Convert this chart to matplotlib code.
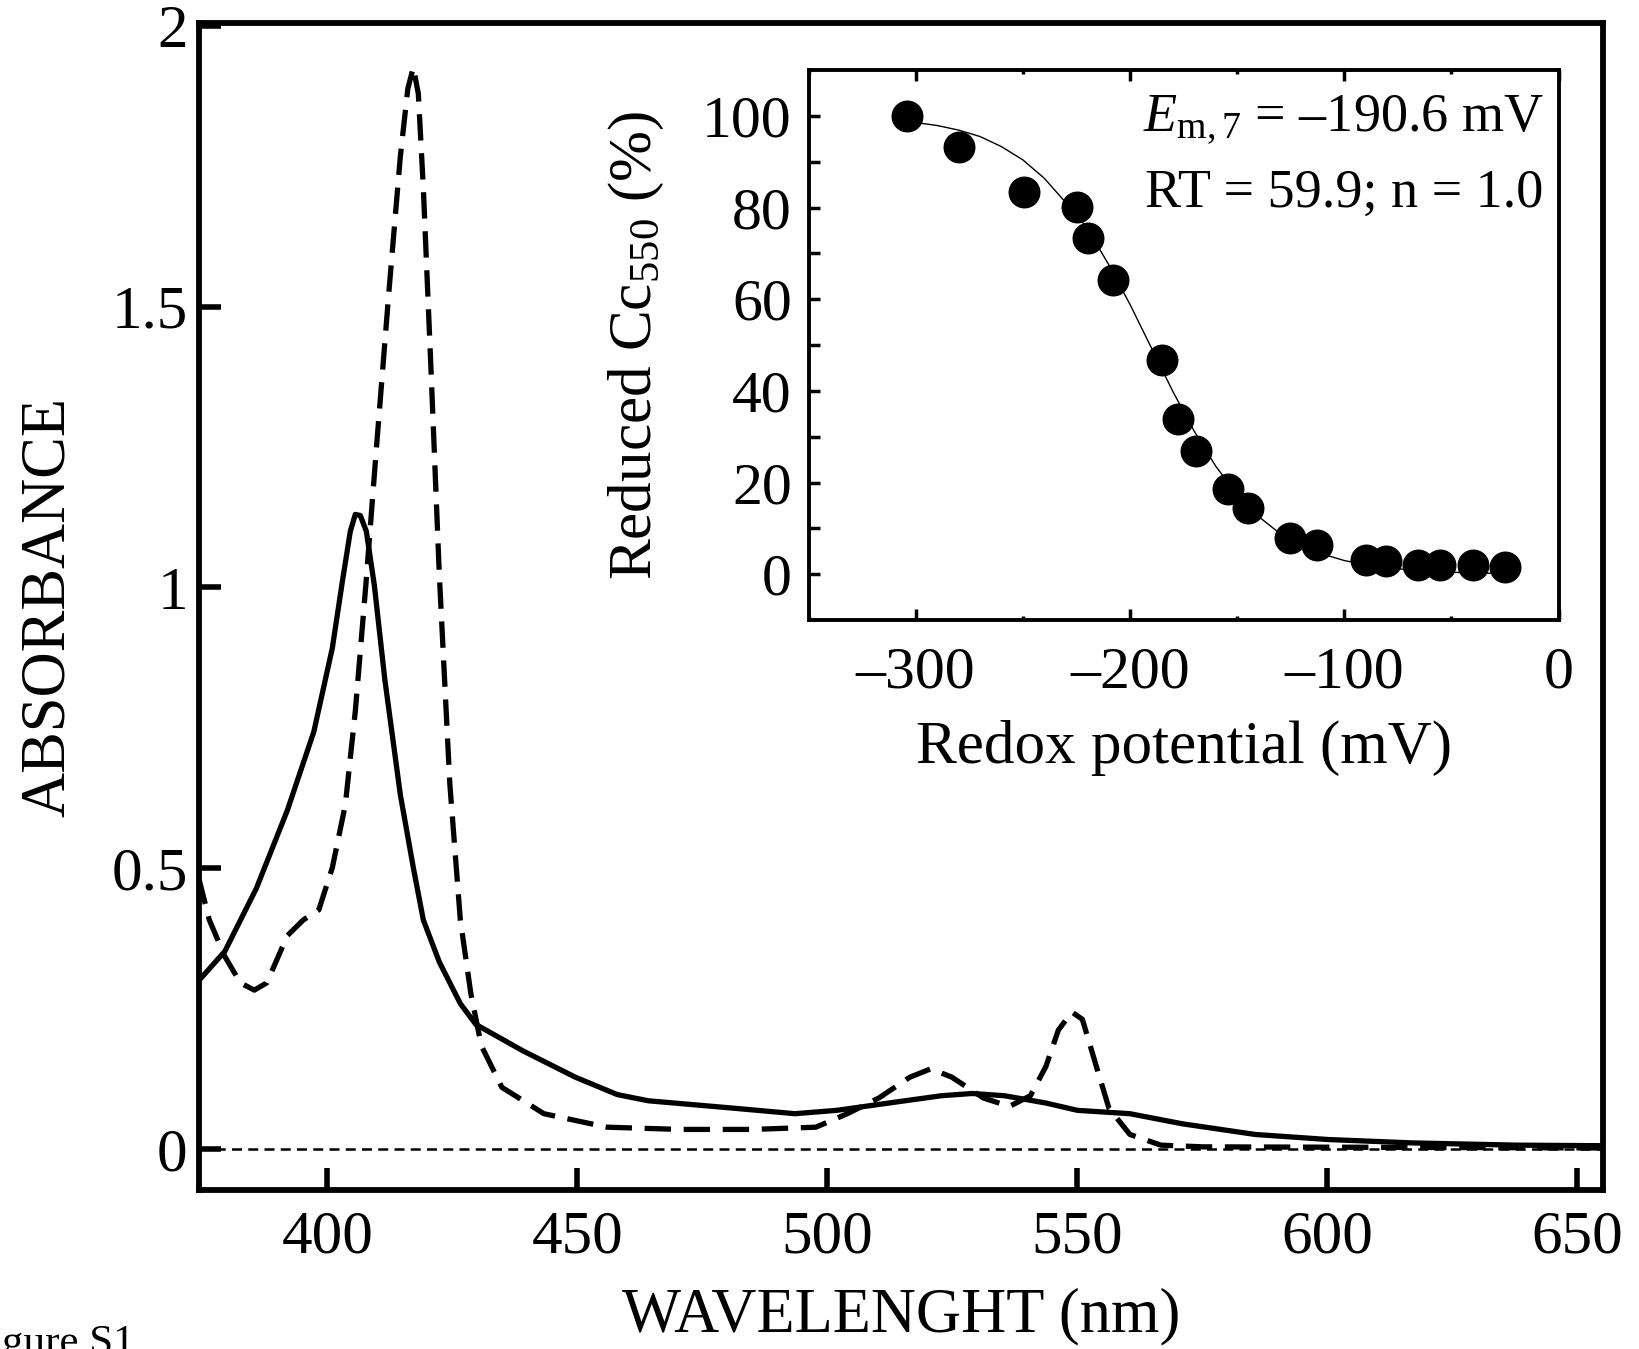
import matplotlib
matplotlib.use("Agg")
import matplotlib.pyplot as plt

plt.rcParams['font.family'] = ['Liberation Serif', 'DejaVu Serif']
plt.rcParams['mathtext.fontset'] = 'custom'
plt.rcParams['mathtext.rm'] = 'Liberation Serif'
plt.rcParams['mathtext.it'] = 'Liberation Serif:italic'

# solid spectrum (wavelength nm, absorbance)
solid_wl = [374.3, 379.5, 385.8, 392.0, 397.3, 401.0, 403.0, 404.6, 405.6, 406.6,
            407.8, 409.4, 411.5, 414.6, 417.2, 419.2, 422.4, 426.6, 429.7, 439.1,
            449.6, 458.0, 464.2, 481.0, 493.5, 501.9, 512.3, 522.8, 529.0, 535.4,
            543.7, 550.0, 560.5, 571.0, 585.6, 600.2, 617.0, 637.9, 655.2]
solid_abs = [0.300, 0.352, 0.464, 0.603, 0.743, 0.892, 1.010, 1.100, 1.130, 1.128,
             1.100, 1.004, 0.836, 0.631, 0.501, 0.408, 0.333, 0.259, 0.222, 0.175,
             0.128, 0.097, 0.086, 0.073, 0.063, 0.069, 0.082, 0.095, 0.099, 0.095,
             0.082, 0.069, 0.063, 0.045, 0.026, 0.017, 0.011, 0.007, 0.006]

# dashed spectrum
dash_wl = [374.3, 376.4, 379.5, 382.6, 385.4, 387.9, 392.0, 395.2, 398.3, 401.0,
           403.6, 405.6, 407.7, 409.8, 412.3, 414.6, 416.1, 417.2, 418.2, 419.2,
           420.7, 422.4, 424.5, 426.6, 428.7, 430.8, 434.9, 443.3, 455.9, 470.5,
           485.1, 497.7, 504.0, 510.3, 516.5, 520.7, 524.9, 531.2, 536.4, 540.6,
           543.7, 546.2, 548.9, 551.0, 553.8, 556.3, 560.5, 566.7, 575.1, 655.0]
dash_abs = [0.482, 0.408, 0.343, 0.296, 0.283, 0.296, 0.380, 0.408, 0.426, 0.501,
            0.613, 0.780, 1.004, 1.246, 1.525, 1.767, 1.888, 1.926, 1.879, 1.711,
            1.395, 1.022, 0.650, 0.408, 0.277, 0.184, 0.110, 0.063, 0.039, 0.035,
            0.035, 0.039, 0.063, 0.091, 0.128, 0.143, 0.128, 0.091, 0.076, 0.095,
            0.147, 0.212, 0.244, 0.231, 0.147, 0.073, 0.026, 0.007, 0.004, 0.002]

main_xticks = [400, 450, 500, 550, 600, 650]
main_yticks = [0, 0.5, 1, 1.5, 2]
main_ytick_labels = ['0', '0.5', '1', '1.5', '2']

# inset: redox titration
redox_mv = [-304, -280, -249.5, -224.6, -219.7, -208, -185, -177.7, -169.4, -154.3,
            -145, -125.5, -112.8, -89.9, -80.6, -65.5, -55.2, -40.1, -25]
reduced_pct = [100, 93.2, 83.4, 80.2, 73.4, 64.1, 46.8, 33.9, 27.0, 18.6,
               14.5, 8.0, 6.4, 3.2, 3.0, 2.0, 2.0, 2.0, 1.6]

fit_mv = [-304, -290, -280, -270, -260, -250, -240, -230, -220, -210, -200, -190,
          -180, -170, -160, -150, -140, -130, -120, -110, -100, -90, -80, -70,
          -60, -50, -40, -25]
fit_pct = [98.8, 97.9, 96.9, 95.5, 93.3, 90.4, 86.4, 81.1, 75.6, 67.6, 58.9, 49.4,
           39.9, 31.2, 23.6, 17.4, 12.6, 8.9, 6.2, 4.4, 3.0, 2.1, 1.4, 1.0,
           0.66, 0.45, 0.30, 0.17]

inset_xticks = [-300, -200, -100, 0]
inset_xtick_labels = ['\u2013300', '\u2013200', '\u2013100', '0']
inset_xminor = [-350, -250, -150, -50]
inset_yticks = [0, 20, 40, 60, 80, 100]
inset_yminor = [10, 30, 50, 70, 90]

fig = plt.figure(figsize=(16.39, 13.49), dpi=100)

ax = fig.add_axes([0.1213, 0.1178, 0.857, 0.8652])
ax.plot(solid_wl, solid_abs, color='black', lw=3.8, solid_joinstyle='round')
ax.plot(dash_wl, dash_abs, color='black', lw=3.8, linestyle=(0, (5, 2.4)))
ax.axhline(0, color='black', lw=1.8, linestyle=(0, (4, 2.5)))
ax.set_xlim(374.3, 655.2)
ax.set_ylim(-0.073, 2.005)
ax.set_xticks(main_xticks)
ax.set_yticks(main_yticks)
ax.set_yticklabels(main_ytick_labels)
ax.tick_params(direction='in', length=16, width=4, labelsize=44)
ax.tick_params(axis='x', pad=14)
ax.tick_params(axis='y', pad=8)
for s in ax.spines.values():
    s.set_linewidth(4.2)
ax.set_xlabel('WAVELENGHT (nm)', fontsize=45, labelpad=16)
ax.set_ylabel('ABSORBANCE', fontsize=45, labelpad=24)

ins = fig.add_axes([0.4933, 0.5403, 0.4576, 0.4078])
ins.plot(fit_mv, fit_pct, color='black', lw=1.0)
ins.plot(redox_mv, reduced_pct, 'o', color='black', markersize=22)
ins.set_xlim(-350, 0)
ins.set_ylim(-10, 110)
ins.set_xticks(inset_xticks)
ins.set_xticklabels(inset_xtick_labels)
ins.set_xticks(inset_xminor, minor=True)
ins.set_yticks(inset_yticks)
ins.set_yticks(inset_yminor, minor=True)
ins.tick_params(axis='x', which='major', direction='in', length=8, width=2.5,
                labelsize=43, pad=19, top=True)
ins.tick_params(axis='x', which='minor', direction='in', length=3, width=2.5, top=True)
ins.tick_params(axis='y', which='both', direction='in', length=8, width=2.5,
                labelsize=43, pad=12)
for s in ins.spines.values():
    s.set_linewidth(2.8)
ins.set_xlabel('Redox potential (mV)', fontsize=44, labelpad=14)
ins.set_ylabel('Reduced Cc$_{550}$ (%)', fontsize=44, labelpad=26)
ins.text(0.98, 0.91, '$\\mathit{E}_{\\mathrm{m,7}}$ = \u2013190.6 mV',
         transform=ins.transAxes, ha='right', va='center', fontsize=39)
ins.text(0.98, 0.775, 'RT = 59.9; n = 1.0', transform=ins.transAxes,
         ha='right', va='center', fontsize=39)

# caption, partly outside the page as in the source figure
fig.text(-0.021, -0.004, 'Figure S1', fontsize=31, ha='left', va='baseline')

fig.savefig('out.png', dpi=100)
